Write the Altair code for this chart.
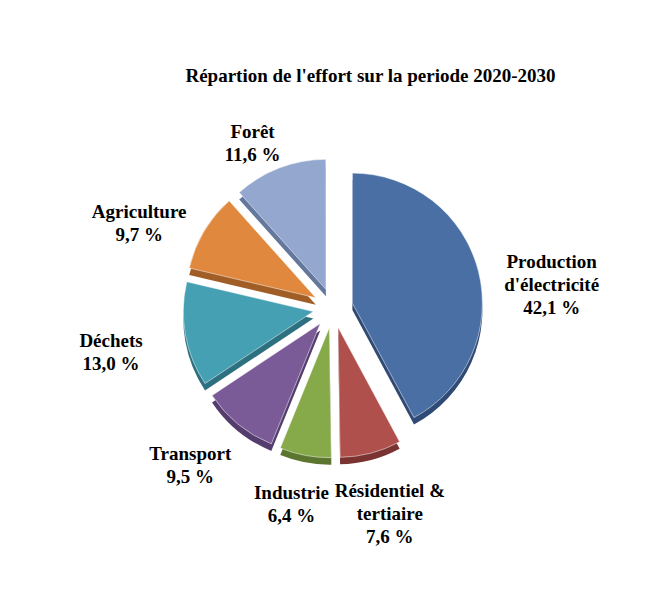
import altair as alt
import pandas as pd

labels = ["Production\nd'électricité\n42,1 %", "Résidentiel &\ntertiaire\n7,6 %", "Industrie\n6,4 %",
          "Transport\n9,5 %", "Déchets\n13,0 %", "Agriculture\n9,7 %", "Forêt\n11,6 %"]
shares = [42.1, 7.6, 6.4, 9.5, 13.0, 9.7, 11.6]
colors = ["#4a6fa5", "#b0504d", "#86a94a", "#7a5b98", "#45a0b4", "#e0883e", "#94a8cf"]
shades = ["#2e4a75", "#7a3331", "#5c7630", "#543d6c", "#2d7080", "#a05e26", "#64779c"]
order = list(range(len(shares)))

df = pd.DataFrame({"label": labels, "share": shares, "color": colors, "shade": shades, "order": order})

CX, CY, R, OFF, LR = 325, 300, 130, 20, 205

base = alt.Chart(df).transform_joinaggregate(
    total="sum(share)"
).transform_window(
    cum="sum(share)", sort=[alt.SortField("order")]
).transform_calculate(
    t1="2*PI*datum.cum/datum.total",
    t0="2*PI*(datum.cum-datum.share)/datum.total",
).transform_calculate(
    mid="(datum.t0+datum.t1)/2"
).transform_calculate(
    cx=f"{CX}+sin(datum.mid)*{OFF}",
    cy=f"{CY}-cos(datum.mid)*{OFF}",
    lx=f"{CX}+sin(datum.mid)*{LR}*1.1",
    ly=f"{CY}-cos(datum.mid)*{LR}*0.92",
)

shadow = base.transform_calculate(cy2="datum.cy+7").mark_arc(outerRadius=R).encode(
    x=alt.X("cx:Q", scale=None), y=alt.Y("cy2:Q", scale=None),
    theta=alt.Theta("t0:Q", scale=None), theta2="t1:Q",
    color=alt.Color("shade:N", scale=None),
)

slices = base.mark_arc(outerRadius=R, stroke="#ffffff", strokeWidth=0.5).encode(
    x=alt.X("cx:Q", scale=None), y=alt.Y("cy:Q", scale=None),
    theta=alt.Theta("t0:Q", scale=None), theta2="t1:Q",
    color=alt.Color("color:N", scale=None),
)

text = base.mark_text(font="Liberation Serif", fontSize=19, fontWeight="bold",
                      lineBreak="\n", align="center", baseline="middle", lineHeight=23).encode(
    x=alt.X("lx:Q", scale=None), y=alt.Y("ly:Q", scale=None), text="label:N",
)

chart = alt.layer(shadow, slices, text).properties(
    width=645, height=583,
    autosize=alt.AutoSizeParams(type="none"),
    padding=0,
    title=alt.TitleParams("Répartion de l'effort sur la periode 2020-2030", font="Liberation Serif",
                          fontSize=19, fontWeight="bold", offset=-78, dx=40),
).configure_view(stroke=None)

chart.save("out.html", embed_options={"renderer": "svg", "actions": False})
